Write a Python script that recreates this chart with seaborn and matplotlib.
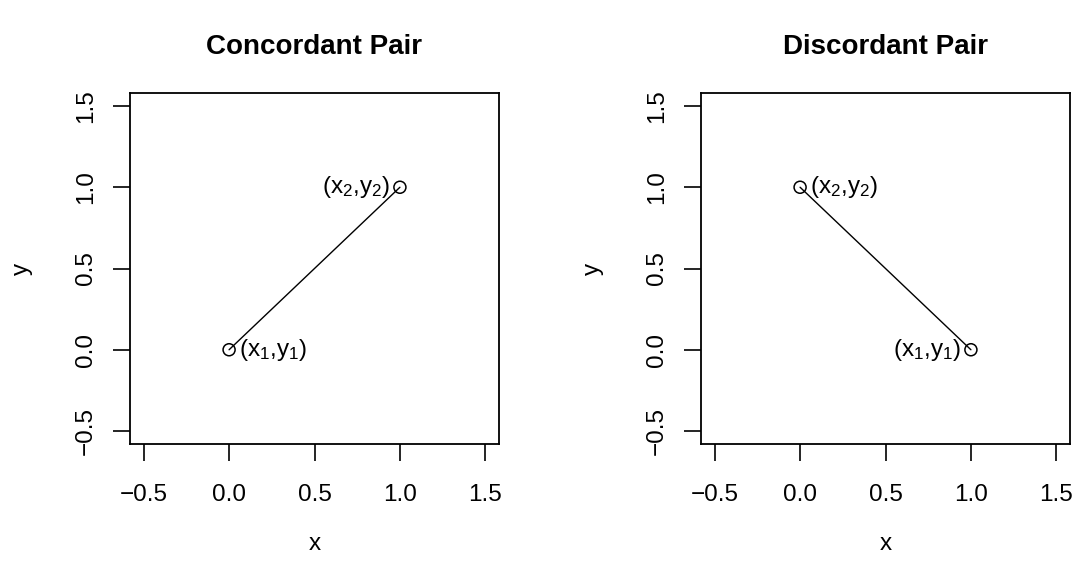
import matplotlib
matplotlib.use('Agg')
import matplotlib.pyplot as plt
import seaborn as sns
import pandas as pd

# data
titles = ['Concordant Pair', 'Discordant Pair']
conc_x = [0, 1]
conc_y = [0, 1]
disc_x = [0, 1]
disc_y = [1, 0]
ticks = [-0.5, 0.0, 0.5, 1.0, 1.5]
tick_labels = ['\u22120.5', '0.0', '0.5', '1.0', '1.5']

sns.set_style('white')
plt.rcParams['font.family'] = ['Liberation Sans', 'DejaVu Sans']
plt.rcParams['mathtext.fontset'] = 'custom'
plt.rcParams['mathtext.rm'] = 'Liberation Sans'
plt.rcParams['mathtext.default'] = 'regular'
plt.rcParams['text.color'] = 'black'
plt.rcParams['axes.labelcolor'] = 'black'
plt.rcParams['xtick.color'] = 'black'
plt.rcParams['ytick.color'] = 'black'

fig = plt.figure(figsize=(10.78, 5.73), dpi=100)
ax1 = fig.add_axes([130 / 1078, 1 - 444 / 573, 369 / 1078, 351 / 573])
ax2 = fig.add_axes([701 / 1078, 1 - 444 / 573, 369 / 1078, 351 / 573])

panels = [
    (ax1, conc_x, conc_y, titles[0],
     [('(x$_1$,y$_1$)', 0, 'left'), ('(x$_2$,y$_2$)', 1, 'right')]),
    (ax2, disc_x, disc_y, titles[1],
     [('(x$_2$,y$_2$)', 0, 'left'), ('(x$_1$,y$_1$)', 1, 'right')]),
]

for ax, xs, ys, title, labels in panels:
    df = pd.DataFrame({'x': xs, 'y': ys})
    sns.lineplot(data=df, x='x', y='y', ax=ax, color='black', lw=1.0,
                 sort=False, estimator=None)
    sns.scatterplot(data=df, x='x', y='y', ax=ax, s=75, facecolor='none',
                    edgecolor='black', linewidth=1.1, zorder=3)
    for txt, i, side in labels:
        dx = 7 if side == 'left' else -7
        ax.annotate(txt, (xs[i], ys[i]), xytext=(dx, 0),
                    textcoords='offset points', ha=side, va='center',
                    fontsize=17.5, color='black')
    ax.set_xlim(-0.58, 1.58)
    ax.set_ylim(-0.58, 1.58)
    ax.set_xticks(ticks)
    ax.set_xticklabels(tick_labels)
    ax.set_yticks(ticks)
    ax.set_yticklabels(tick_labels, rotation=90, va='center')
    ax.tick_params(direction='out', length=12, width=1.2, labelsize=17.5,
                   color='black', labelcolor='black', left=True, bottom=True)
    ax.tick_params(axis='x', pad=17)
    ax.tick_params(axis='y', pad=12)
    for sp in ax.spines.values():
        sp.set_color('black')
        sp.set_linewidth(1.3)
    ax.set_xlabel('x', fontsize=17.5, labelpad=19)
    ax.set_ylabel('y', fontsize=17.5, labelpad=30)
    ax.set_title(title, fontsize=20, fontweight='bold', pad=28, color='black')

fig.savefig('out.png', dpi=100, facecolor='white')
